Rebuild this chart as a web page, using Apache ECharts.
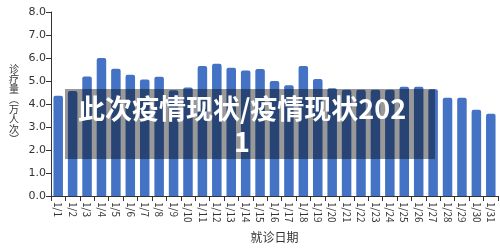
<!DOCTYPE html>
<html>
<head>
<meta charset="utf-8">
<script src="https://cdn.jsdelivr.net/npm/echarts@6/dist/echarts.min.js"></script>
<style>html,body{margin:0;padding:0;background:#fff;}#c{width:500px;height:250px;}</style>
</head>
<body>
<div id="c"></div>
<script>
const categories = ['1/1','1/2','1/3','1/4','1/5','1/6','1/7','1/8','1/9','1/10','1/11','1/12','1/13','1/14','1/15','1/16','1/17','1/18','1/19','1/20','1/21','1/22','1/23','1/24','1/25','1/26','1/27','1/28','1/29','1/30','1/31'];
const visits = [4.36,4.57,5.2,6.0,5.53,5.27,5.07,5.19,4.6,4.72,5.65,5.75,5.58,5.46,5.52,5.0,4.81,5.65,5.09,4.68,4.62,4.62,4.62,4.62,4.75,4.75,4.64,4.27,4.27,3.75,3.58];
const yAxisTitle = '诊疗量︵万人次︶';
const xAxisTitle = '就诊日期';
const overlayText = '此次疫情现状/疫情现状202\n1';

const chart = echarts.init(document.getElementById('c'), null, {renderer: 'canvas'});
const font = 'Noto Sans CJK SC, sans-serif';
chart.setOption({
  animation: false,
  textStyle: {fontFamily: font},
  grid: {left: 51, right: 2, top: 12, bottom: 54, containLabel: false},
  xAxis: {
    type: 'category',
    data: categories,
    name: xAxisTitle,
    nameLocation: 'middle',
    nameGap: 35,
    nameTextStyle: {fontSize: 12, color: '#333', fontFamily: font},
    axisLine: {show: true, lineStyle: {color: '#333'}},
    axisTick: {show: true, alignWithLabel: false, lineStyle: {color: '#333'}},
    axisLabel: {rotate: -90, fontSize: 10, color: '#333', interval: 0, margin: 6, fontFamily: font}
  },
  yAxis: {
    type: 'value',
    min: 0, max: 8, interval: 1,
    name: yAxisTitle.split('').join('\n'),
    nameLocation: 'middle',
    nameRotate: 0,
    nameGap: 32,
    nameTextStyle: {fontSize: 10, lineHeight: 10, color: '#333', fontFamily: font, align: 'right'},
    axisLine: {show: true, lineStyle: {color: '#333'}},
    axisTick: {show: true, lineStyle: {color: '#333'}},
    splitLine: {show: false},
    axisLabel: {fontSize: 11, color: '#333', margin: 5, formatter: v => v.toFixed(1), fontFamily: 'DejaVu Sans, sans-serif'}
  },
  series: [{
    type: 'bar',
    data: visits,
    barWidth: 9.5,
    itemStyle: {color: '#4472C4', borderRadius: [2,2,0,0]}
  }],
  graphic: [
    {type: 'rect', shape: {x: 65, y: 89, width: 370, height: 70}, style: {fill: 'rgba(0,0,0,0.4)'}, z: 100},
    {type: 'text', x: 242, y: 125, z: 101, style: {
      text: overlayText, fill: '#fff', font: 'bold 27px "Noto Sans CJK SC", sans-serif',
      align: 'center', verticalAlign: 'middle', lineHeight: 32.5
    }}
  ]
});
</script>
</body>
</html>
